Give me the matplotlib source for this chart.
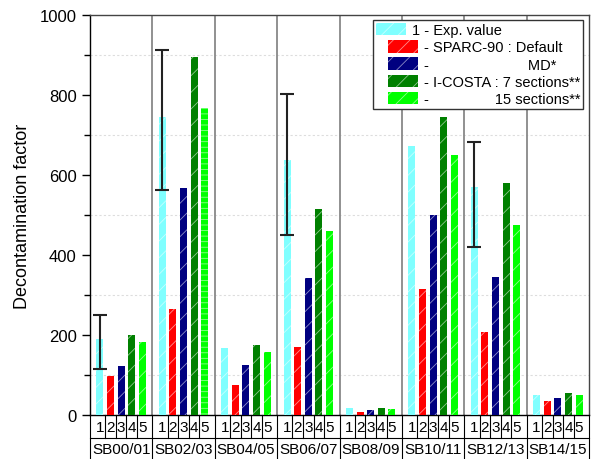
import numpy as np
import matplotlib
matplotlib.use('Agg')
import matplotlib.pyplot as plt
from matplotlib.patches import Patch, Rectangle
from matplotlib.legend_handler import HandlerPatch

plt.rcParams['font.family'] = ['Liberation Sans', 'DejaVu Sans']
plt.rcParams['hatch.linewidth'] = 0.6

# data
groups = ['SB00/01', 'SB02/03', 'SB04/05', 'SB06/07', 'SB08/09', 'SB10/11', 'SB12/13', 'SB14/15']
bar_labels = ['1', '2', '3', '4', '5']
exp_value = [189, 744, 167, 637, 17, 673, 570, 51]
sparc_default = [97, 265, 75, 171, 8, 314, 208, 36]
sparc_md = [123, 568, 124, 342, 12, 500, 345, 43]
icosta_7 = [200, 894, 174, 514, 18, 744, 579, 55]
icosta_15 = [183, 767, 157, 460, 16, 650, 476, 50]
# experimental error bars (lower / upper bound), only where drawn
err_groups = [0, 1, 3, 6]
err_low = [115, 562, 449, 420]
err_high = [251, 912, 802, 682]

series = [exp_value, sparc_default, sparc_md, icosta_7, icosta_15]
colors = ['#80FFFF', '#FF0000', '#000080', '#008000', '#00FF00']
legend_labels = ['1 - Exp. value',
                 '- SPARC-90 : Default',
                 '-' + ' ' * 24 + 'MD*',
                 '- I-COSTA : 7 sections**',
                 '-' + ' ' * 16 + '15 sections**']

hatch_col = (1, 1, 1, 0.55)
step = 0.17
bw = 0.112
xg = np.arange(len(groups)) + 0.5

fig = plt.figure(figsize=(5.91, 4.60), dpi=100)
ax = fig.add_axes([90/591, 44/460, 499/591, 400/460])

for k, vals in enumerate(series):
    x = xg + (k - 2) * step
    bars = ax.bar(x, vals, width=bw, color=colors[k], edgecolor=hatch_col,
                  linewidth=0, hatch='//', zorder=3)
    if k == 4:
        bars[1].set_hatch('---')

# error bars on the experimental values
xe = xg[err_groups] - 2 * step
ye = np.array(exp_value)[err_groups]
yerr = [ye - np.array(err_low), np.array(err_high) - ye]
ax.errorbar(xe, ye, yerr=yerr, fmt='none', ecolor='#222222', elinewidth=1.5,
            capsize=5, capthick=1.5, zorder=4)

ax.set_xlim(0, len(groups))
ax.set_ylim(0, 1000)
ax.set_yticks(np.arange(0, 1001, 200))
ax.set_yticks(np.arange(100, 1000, 200), minor=True)
ax.tick_params(axis='y', which='major', length=6, width=1, labelsize=12, direction='out')
ax.tick_params(axis='y', which='minor', length=4, width=1)
ax.set_xticks([])
ax.grid(axis='y', which='minor', color='#dddddd', linestyle=(0, (2, 2)), linewidth=0.8, zorder=0)
ax.set_ylabel('Decontamination factor', fontsize=13, labelpad=6)
for s in ax.spines.values():
    s.set_linewidth(1)
    s.set_color('black')
ax.spines['top'].set_color('#444444')
ax.spines['right'].set_color('#444444')

# group separators
for b in range(1, len(groups)):
    ax.axvline(b, color='#888888', linewidth=1.3, zorder=2)

# two-level category table under the axis
tr = ax.get_xaxis_transform()
row1_bot = -0.0575
row2_bot = -0.11
ax.plot([0, len(groups)], [row1_bot, row1_bot], color='black', lw=0.8,
        transform=tr, clip_on=False)
for b in range(len(groups) + 1):
    ax.plot([b, b], [0, row2_bot], color='black', lw=0.8, transform=tr, clip_on=False)
for g in range(len(groups)):
    for k in range(len(bar_labels)):
        ax.text(xg[g] + (k - 2) * step, -0.029, bar_labels[k], transform=tr,
                ha='center', va='center', fontsize=11)
    for k in range(len(bar_labels) - 1):
        xm = xg[g] + (k - 1.5) * step
        ax.plot([xm, xm], [0, row1_bot], color='black', lw=0.8, transform=tr, clip_on=False)
    ax.text(xg[g], -0.084, groups[g], transform=tr, ha='center', va='center', fontsize=11)

# legend
handles = [Patch(facecolor=c, edgecolor=hatch_col, hatch='//', linewidth=0) for c in colors]


def left_patch(legend, orig_handle, xdescent, ydescent, width, height, fontsize):
    return Rectangle((-xdescent, -ydescent), width * 0.7, height)


def right_patch(legend, orig_handle, xdescent, ydescent, width, height, fontsize):
    return Rectangle((-xdescent + width * 0.28, -ydescent), width * 0.72, height)


hmap = {handles[0]: HandlerPatch(patch_func=left_patch)}
for h in handles[1:]:
    hmap[h] = HandlerPatch(patch_func=right_patch)

leg = ax.legend(handles, legend_labels, handler_map=hmap, loc='upper right',
                bbox_to_anchor=(0.988, 0.9875), borderaxespad=0, fontsize=10.5,
                handlelength=2.9, handleheight=0.95, handletextpad=0.35,
                labelspacing=0.2, borderpad=0.2, fancybox=False, framealpha=1,
                edgecolor='#333333')
leg.get_frame().set_linewidth(1)
leg.get_texts()[0].set_position((-12, 0))

fig.savefig('out.png', dpi=100)
